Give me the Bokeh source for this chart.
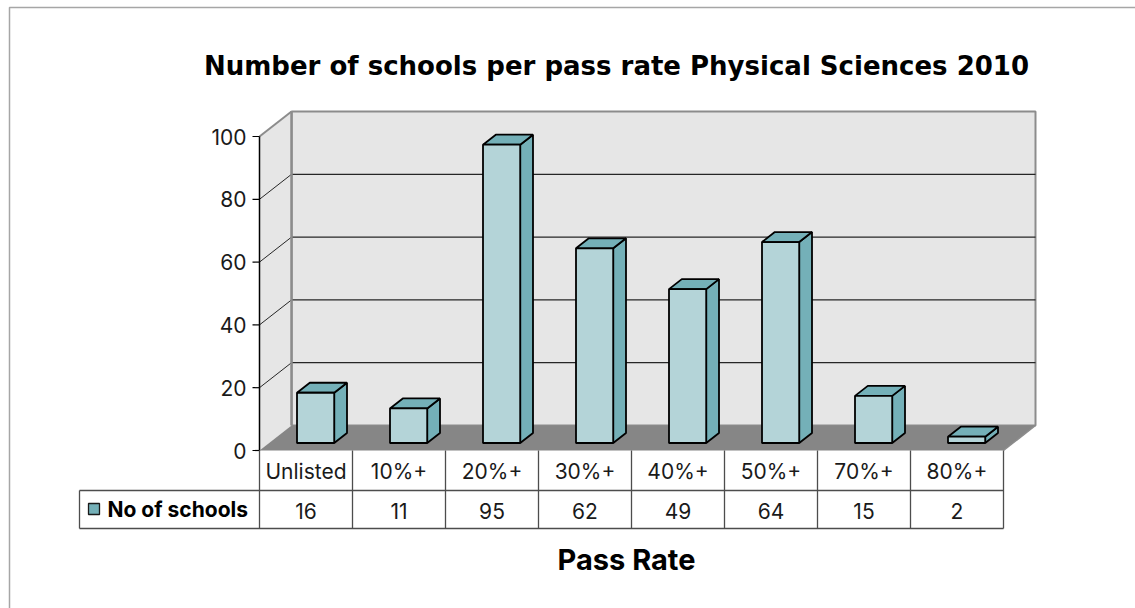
from bokeh.plotting import figure
from bokeh.models import Range1d
from bokeh.core.properties import value
from bokeh.embed import file_html
from bokeh.resources import INLINE

# --- data ---------------------------------------------------------------
categories = ["Unlisted", "10%+", "20%+", "30%+", "40%+", "50%+", "70%+", "80%+"]
schools = [16, 11, 95, 62, 49, 64, 15, 2]
y_ticks = [0, 20, 40, 60, 80, 100]
series_name = "No of schools"
title_text = "Number of schools per pass rate Physical Sciences 2010"
x_title = "Pass Rate"

# --- layout in data units (1 category = 93 px, 1 school = 3.14 px) -------
W, H = 1135, 608
PX_X, PX_Y = 93.0, 3.14
ORG_X, ORG_Y = 259.0, 450.0          # pixel position of (0, 0)
n = len(categories)
YMAX = 100
DX, DY = 32 / PX_X, 25 / PX_Y        # depth offset of the back wall
D0, D1 = 0.3, 0.7                    # bar depth span
BW = 0.4                             # bar width


def px(xp):
    return (xp - ORG_X) / PX_X


def py(yp):
    return (ORG_Y - yp) / PX_Y


FONT = value("Inter")
TITLE_FONT = value("DejaVu Sans")
p = figure(width=W, height=H, output_backend="svg", toolbar_location=None,
           x_range=Range1d(px(0), px(W)), y_range=Range1d(py(H), py(0)),
           min_border=0, background_fill_color="white", border_fill_color="white")
p.axis.visible = False
p.grid.visible = False
p.outline_line_color = None

# outer chart border
p.quad(left=px(9), right=px(W + 10), top=py(7), bottom=py(H + 10),
       fill_color=None, line_color="#a6a6a6", line_width=1.5)

# walls and floor
wall = "#e6e6e6"
p.patch([DX, n + DX, n + DX, DX], [DY, DY, YMAX + DY, YMAX + DY],
        fill_color=wall, line_color="#8c8c8c", line_width=2)
p.patch([0, DX, DX, 0], [0, DY, YMAX + DY, YMAX],
        fill_color=wall, line_color=None)
p.patch([0, n, n + DX, DX], [0, 0, DY, DY],
        fill_color="#868686", line_color=None)

# gridlines on back wall and side wall
grid_v = [t for t in y_ticks if 0 < t < YMAX]
p.segment(x0=[DX] * len(grid_v), y0=[t + DY for t in grid_v],
          x1=[n + DX] * len(grid_v), y1=[t + DY for t in grid_v],
          line_color="#262626", line_width=1.2)
p.segment(x0=[0] * len(grid_v), y0=grid_v,
          x1=[DX] * len(grid_v), y1=[t + DY for t in grid_v],
          line_color="#262626", line_width=1)
p.line([0, DX], [YMAX, YMAX + DY], line_color="#8c8c8c", line_width=2)
p.line([DX, DX], [DY, YMAX + DY], line_color="#8c8c8c", line_width=2.5)

# bars (front, side, top)
front_xs, front_ys, side_xs, side_ys, top_xs, top_ys = [], [], [], [], [], []
dd_x, dd_y = (D1 - D0) * DX, (D1 - D0) * DY
for i, v in enumerate(schools):
    x0 = i + 0.5 - BW / 2 + D0 * DX
    x1 = x0 + BW
    y0 = D0 * DY
    y1 = v + y0
    front_xs.append([x0, x1, x1, x0]); front_ys.append([y0, y0, y1, y1])
    side_xs.append([x1, x1 + dd_x, x1 + dd_x, x1])
    side_ys.append([y0, y0 + dd_y, y1 + dd_y, y1])
    top_xs.append([x0, x1, x1 + dd_x, x0 + dd_x])
    top_ys.append([y1, y1, y1 + dd_y, y1 + dd_y])
p.patches(side_xs, side_ys, fill_color="#74b0b8", line_color="black", line_width=1.8)
p.patches(top_xs, top_ys, fill_color="#74b0b8", line_color="black", line_width=1.8)
p.patches(front_xs, front_ys, fill_color="#b4d4d8", line_color="black", line_width=1.8)

# floor right edge
p.line([n, n + DX], [0, DY], line_color="#8c8c8c", line_width=1.5)

# value axis
p.line([0, 0], [0, YMAX], line_color="black", line_width=1.5)
tick_len = 7 / PX_X
p.segment(x0=[-tick_len] * len(y_ticks), y0=y_ticks, x1=[0] * len(y_ticks), y1=y_ticks,
          line_color="black", line_width=1.2)
p.text(x=[-13 / PX_X] * len(y_ticks), y=y_ticks, text=[str(t) for t in y_ticks],
       text_font=FONT, text_font_size="21px", text_align="right",
       text_baseline="middle", text_color="#1a1a1a")

# data table
r1_top, r1_bot, r2_bot = 0, py(490), py(528)
tbl = "#4d4d4d"
p.segment(x0=list(range(n + 1)), y0=[r1_top] * (n + 1),
          x1=list(range(n + 1)), y1=[r2_bot] * (n + 1),
          line_color=tbl, line_width=1.3)
p.segment(x0=[px(79), px(79)], y0=[r1_bot, r2_bot], x1=[n, n], y1=[r1_bot, r2_bot],
          line_color=tbl, line_width=1.3)
p.segment(x0=[px(79)], y0=[r1_bot], x1=[px(79)], y1=[r2_bot],
          line_color=tbl, line_width=1.3)
centers = [i + 0.5 for i in range(n)]
p.text(x=centers, y=[py(471)] * n, text=categories, text_font=FONT,
       text_font_size="21px", text_align="center", text_baseline="middle",
       text_color="#1a1a1a")
p.text(x=centers, y=[py(510)] * n, text=[str(v) for v in schools], text_font=FONT,
       text_font_size="21px", text_align="center", text_baseline="middle",
       text_color="#1a1a1a")
p.quad(left=px(88), right=px(99), top=py(503), bottom=py(514),
       fill_color="#74b0b8", line_color="#1a1a1a", line_width=1.3)
p.text(x=[px(107)], y=[py(509)], text=[series_name], text_font=FONT,
       text_font_size="21px", text_font_style="bold", text_align="left",
       text_baseline="middle", text_color="black")

# titles
p.text(x=[px(616)], y=[py(65)], text=[title_text], text_font=TITLE_FONT,
       text_font_size="26px", text_font_style="bold", text_align="center",
       text_baseline="middle", text_color="black")
p.text(x=[px(626)], y=[py(559)], text=[x_title], text_font=FONT,
       text_font_size="29px", text_font_style="bold", text_align="center",
       text_baseline="middle", text_color="black")

open("out.html", "w").write(file_html(p, INLINE))
